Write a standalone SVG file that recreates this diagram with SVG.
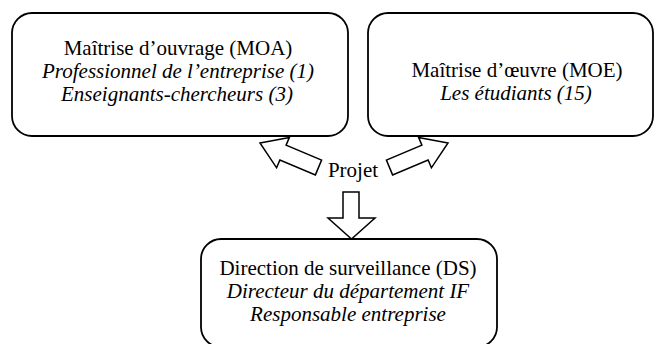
<svg xmlns="http://www.w3.org/2000/svg" width="655" height="344" viewBox="0 0 655 344">
<style>
.box{fill:#fff;stroke:#000;stroke-width:1.8}
.arr{fill:#fff;stroke:#000;stroke-width:1.5;stroke-linejoin:miter}
</style>
<rect width="655" height="344" fill="#fff"/>
<g id="moa" font-family="Liberation Serif" font-size="21" text-anchor="middle">
<rect class="box" x="12" y="13" width="336" height="123" rx="20" ry="20"/>
<text x="178" y="55">Maîtrise d’ouvrage (MOA)</text>
<text x="178" y="78" font-style="italic">Professionnel de l’entreprise (1)</text>
<text x="177" y="101" font-style="italic">Enseignants-chercheurs (3)</text>
</g>
<g id="moe" font-family="Liberation Serif" font-size="21" text-anchor="middle">
<rect class="box" x="368" y="13" width="285" height="123" rx="20" ry="20"/>
<text x="517" y="77">Maîtrise d’œuvre (MOE)</text>
<text x="516" y="100" font-style="italic">Les étudiants (15)</text>
</g>
<g id="ds" font-family="Liberation Serif" font-size="21" text-anchor="middle">
<rect class="box" x="201" y="239" width="296" height="108" rx="20" ry="20"/>
<text x="348" y="275">Direction de surveillance (DS)</text>
<text x="348" y="298" font-style="italic">Directeur du département IF</text>
<text x="348" y="321" font-style="italic">Responsable entreprise</text>
</g>
<g id="projet" font-family="Liberation Serif" font-size="21" text-anchor="middle">
<text x="353" y="177">Projet</text>
</g>
<g id="connectors">
<polygon class="arr" points="260,143 289.4,137.4 286.1,145.2 321.6,160.1 315.4,174.9 279.9,160 276.6,167.8"/>
<polygon class="arr" points="448,143 418.6,137.4 421.9,145.2 386.4,160.1 392.6,174.9 428.1,160 431.4,167.8"/>
<polygon class="arr" points="343,192 359,192 359,218 375,218 351.5,239 328,218 343,218"/>
</g>
</svg>
